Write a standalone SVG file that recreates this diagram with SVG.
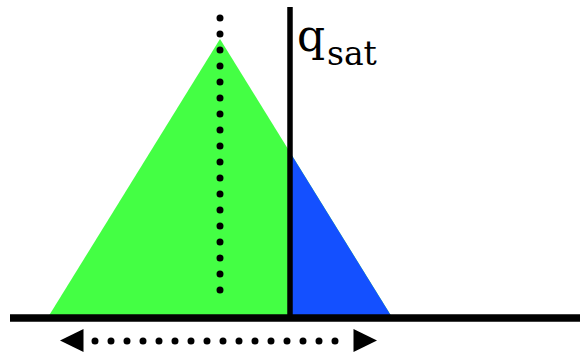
<svg xmlns="http://www.w3.org/2000/svg" width="580" height="354" viewBox="0 0 580 354">
  <style>
    .dots { fill: none; stroke: #000; stroke-width: 7; stroke-linecap: round; stroke-dasharray: 0 16; }
    .solid { stroke: #000; fill: none; }
    .label { font-family: "DejaVu Serif", "Liberation Serif", serif; fill: #000; }
  </style>
  <rect width="580" height="354" fill="#fff"/>
  <g id="triangle">
    <polygon points="47.5,318 220,39 392.5,318" fill="#44ff44"/>
    <polygon points="290,152.3 392.5,318 290,318" fill="#1450ff"/>
  </g>
  <g id="mean-line">
    <line class="dots" x1="220" y1="18" x2="220" y2="306"/>
  </g>
  <g id="qsat">
    <line class="solid" x1="290" y1="7" x2="290" y2="318" stroke-width="5.5"/>
    <text class="label" x="297" y="51" font-size="44">q</text>
    <text class="label" x="327" y="65" font-size="33">sat</text>
  </g>
  <g id="axis">
    <line class="solid" x1="10" y1="318" x2="580" y2="318" stroke-width="7.5"/>
  </g>
  <g id="connectors">
    <line class="dots" x1="95" y1="341" x2="351" y2="341"/>
    <polygon points="60,340.5 83.5,329 83.5,352" fill="#000"/>
    <polygon points="377,340.5 353.5,329 353.5,352" fill="#000"/>
  </g>
</svg>
